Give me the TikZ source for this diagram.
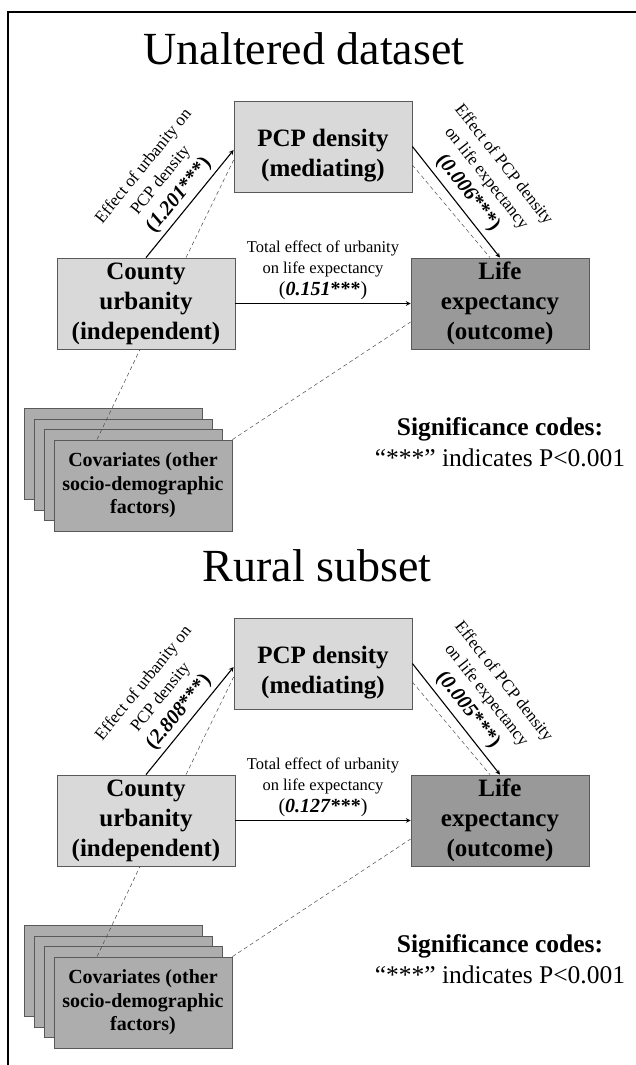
\documentclass[tikz,border=0pt]{standalone}
\usepackage{fontspec}
\setmainfont{Liberation Serif}

\begin{document}
\begin{tikzpicture}[x=1pt,y=-1pt,>=stealth,
  box/.style={draw=black!65,line width=0.8pt,minimum width=178pt,minimum height=91pt,inner sep=0pt,align=center,font=\fontsize{25}{30}\selectfont\bfseries},
  light/.style={box,fill=black!15},
  dark/.style={box,fill=black!40},
  covbox/.style={box,fill=black!32,font=\fontsize{20}{23.5}\selectfont\bfseries},
  effect/.style={align=center,font=\fontsize{16.5}{21}\selectfont,inner sep=3pt},
  slopelabel/.style={effect,font=\fontsize{17}{22}\selectfont,sloped,above},
  direct/.style={->,line width=1.1pt},
  indirect/.style={dash pattern=on 4pt off 3pt,draw=black!70,line width=0.5pt}]

\useasboundingbox (0,0) rectangle (636,1065);
\draw[line width=1.2pt] (8,1065) -- (8,12) -- (636,12);

\foreach \i/\dy/\ttl/\tx/\vab/\vbc/\vac in {1/0/Unaltered dataset/304/1.201/0.006/0.151,2/517/Rural subset/317/2.808/0.005/0.127}{
    \node[anchor=base,font=\fontsize{46}{50}\selectfont] (title-\i) at (\tx,64+\dy) {\ttl};

    % the three boxes
    \node[light] (pcp-\i) at (323,146.5+\dy) {};
    \node[align=center,font=\fontsize{25}{30}\selectfont\bfseries] (pcptext-\i) at (323,156+\dy) {PCP density\\(mediating)};
    \node[light] (cty-\i) at (146,303.5+\dy) {County\\urbanity\\(independent)};
    \node[dark] (life-\i) at (500,303.5+\dy) {Life\\expectancy\\(outcome)};

    % stacked covariates
    \foreach \k in {3,2,1}
        \node[covbox] (cov-\i-\k) at (143-10*\k,485.5-10.5*\k+\dy) {};
    \node[covbox] (cov-\i) at (143,485.5+\dy) {Covariates (other\\socio-demographic\\factors)};

    \node[align=center,font=\fontsize{25.5}{31}\selectfont] (sig-\i) at (500,442+\dy) {\textbf{Significance codes:}\\``***'' indicates P<0.001};

    \path[direct] (cty-\i.north) edge node[slopelabel,inner sep=4pt] {Effect of urbanity on\\PCP density\\[2pt]{\fontsize{20.5}{22}\selectfont\bfseries(\textit{\vab}***)}} ([yshift=-3.5pt]pcp-\i.west);
    \path[indirect] ([xshift=40pt]cty-\i.north) edge ([yshift=-13.5pt]pcp-\i.west);

    \path[direct] (pcp-\i.east) edge node[slopelabel,inner sep=5pt] {Effect of PCP density\\on life expectancy\\[2pt]{\fontsize{20.5}{22}\selectfont\bfseries(\textit{\vbc}***)}} (life-\i.north);
    \path[indirect] ([yshift=-18.5pt]pcp-\i.east) edge ([xshift=-10pt]life-\i.north);

    \path[direct] (cty-\i) edge node[effect,above,inner sep=3pt] {Total effect of urbanity\\on life expectancy\\[1pt]{\fontsize{20}{22}\selectfont(\textbf{\textit{\vac}***})}} (life-\i);

    \path[indirect] ([xshift=-46pt]cov-\i.north) edge ([xshift=-6pt]cty-\i.south);
    \path[indirect] (cov-\i.north east) edge ([yshift=-18.5pt]life-\i.west);
}

\end{tikzpicture}
\end{document}
